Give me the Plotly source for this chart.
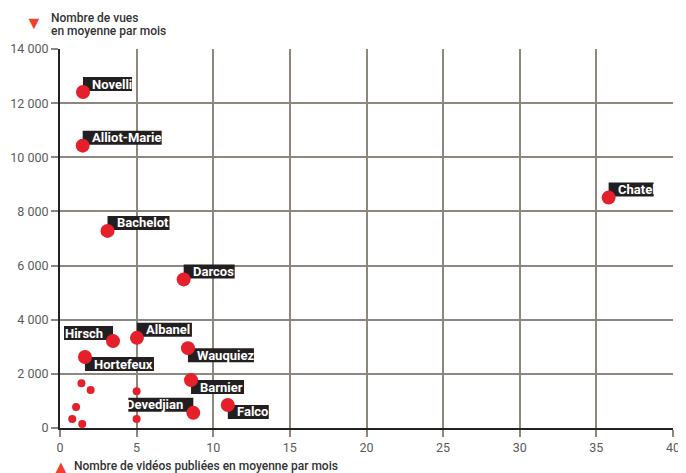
import plotly.graph_objects as go

# Data
names = ["Novelli", "Alliot-Marie", "Bachelot", "Chatel", "Darcos", "Hirsch",
         "Albanel", "Hortefeux", "Wauquiez", "Barnier", "Devedjian", "Falco"]
videos = [1.5, 1.48, 3.1, 35.8, 8.07, 3.46, 5.02, 1.63, 8.35, 8.55, 8.7, 10.95]
views = [12410, 10430, 7280, 8510, 5490, 3210, 3330, 2620, 2950, 1770, 560, 850]

others_videos = [1.4, 2.0, 5.0, 1.05, 0.8, 1.45, 5.0]
others_views = [1650, 1400, 1360, 780, 330, 150, 330]

x_ticks = [0, 5, 10, 15, 20, 25, 30, 35, 40]
y_ticks = [0, 2000, 4000, 6000, 8000, 10000, 12000, 14000]
y_tick_text = ["0", "2 000", "4 000", "6 000", "8 000", "10 000", "12 000", "14 000"]

# Label styling: side of the point and text width in px
LABEL_STYLE = {
    "Novelli": ("ur", 40), "Alliot-Marie": ("ur", 70), "Bachelot": ("ur", 53),
    "Chatel": ("ur", 36), "Darcos": ("ur", 42), "Albanel": ("ur", 46),
    "Hirsch": ("ul", 38), "Devedjian": ("ul", 54), "Hortefeux": ("dr", 60),
    "Wauquiez": ("dr", 57), "Barnier": ("dr", 44), "Falco": ("dr", 32),
}

RED = "#e5202b"
TRI = "#ee4130"
GRID = "#8d877d"
BOX = "#231f20"
TICK = "#5a5a5a"
FONT = "Roboto, Arial, sans-serif"
TITLE_FONT = dict(family=FONT, size=12, color="#333333", weight=500)

fig = go.Figure()
fig.add_trace(go.Scatter(
    x=others_videos, y=others_views, mode="markers",
    marker=dict(color=RED, size=8, line=dict(width=0)),
    hoverinfo="skip", cliponaxis=False,
))
fig.add_trace(go.Scatter(
    x=videos, y=views, mode="markers", text=names,
    marker=dict(color=RED, size=14, line=dict(width=0)),
    hovertemplate="<b>%{text}</b><br>%{x} vidéos<br>%{y} vues<extra></extra>",
    cliponaxis=False,
))

for n, xv, yv in zip(names, videos, views):
    side, w = LABEL_STYLE[n]
    if side == "ul":
        x0, x1 = -(w + 11), 0
        tx, xa = -8, "right"
    else:
        x0, x1 = 0, w + 9
        tx, xa = 7, "left"
    if side == "dr":
        y0, y1, ty = 0, -14, -7
    else:
        y0, y1, ty = 1, 15, 8
    fig.add_shape(
        type="rect", xref="x", yref="y", layer="between",
        xsizemode="pixel", ysizemode="pixel", xanchor=xv, yanchor=yv,
        x0=x0, x1=x1, y0=y0, y1=y1,
        fillcolor=BOX, line=dict(width=0),
    )
    fig.add_annotation(
        x=xv, y=yv, text=n, showarrow=False, xanchor=xa, yanchor="middle",
        xshift=tx, yshift=ty,
        font=dict(family=FONT, size=13, color="white", weight="bold"),
    )

# Axis titles with triangles
fig.add_annotation(
    xref="paper", yref="paper", x=-0.043, y=1.071, xanchor="center", yanchor="middle",
    text="▼", showarrow=False, font=dict(size=18, color=TRI),
)
fig.add_annotation(
    xref="paper", yref="paper", x=-0.018, y=1.082, xanchor="left", yanchor="middle",
    text="Nombre de vues", showarrow=False, font=TITLE_FONT,
)
fig.add_annotation(
    xref="paper", yref="paper", x=-0.018, y=1.047, xanchor="left", yanchor="middle",
    text="en moyenne par mois", showarrow=False, font=TITLE_FONT,
)
fig.add_annotation(
    xref="paper", yref="paper", x=0.001, y=-0.1, xanchor="center", yanchor="middle",
    text="▲", showarrow=False, font=dict(size=18, color=TRI),
)
fig.add_annotation(
    xref="paper", yref="paper", x=0.019, y=-0.1, xanchor="left", yanchor="middle",
    text="Nombre de vidéos publiées en moyenne par mois", showarrow=False,
    font=TITLE_FONT,
)

axis_common = dict(
    showgrid=True, gridcolor=GRID, gridwidth=2, zeroline=False,
    ticks="outside", ticklen=7, tickwidth=2, tickcolor=GRID,
    tickfont=dict(family=FONT, size=12.5, color=TICK),
    showline=True, linecolor="#222222", linewidth=2,
    automargin=False,
)
fig.update_xaxes(range=[0, 40], tickvals=x_ticks, **axis_common)
fig.update_yaxes(range=[0, 14000], tickvals=y_ticks, ticktext=y_tick_text, **axis_common)

# page body adds an 8px offset, so the figure is sized to fit the window
fig.update_layout(
    width=678, height=465,
    margin=dict(l=52, r=13, t=41, b=45),
    plot_bgcolor="white", paper_bgcolor="white",
    showlegend=False,
)

fig.write_html("out.html")
